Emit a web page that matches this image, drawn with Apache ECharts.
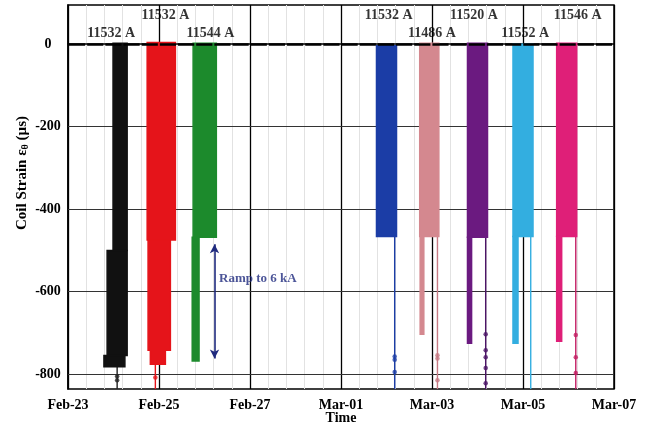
<!DOCTYPE html>
<html><head><meta charset="utf-8">
<script src="https://cdn.jsdelivr.net/npm/echarts@6/dist/echarts.min.js"></script>
<style>html,body{margin:0;padding:0;background:#fff}#c{width:648px;height:431px}</style>
</head><body><div id="c"></div>
<script>
// ---- data (x in days since Feb-23, y in microstrain) ----
const xTickLabels = ['Feb-23','Feb-25','Feb-27','Mar-01','Mar-03','Mar-05','Mar-07'];
const yTicks = [0, -200, -400, -600, -800];
const runNames = ['11532 A','11532 A','11544 A','11532 A','11486 A','11520 A','11552 A','11546 A'];
const runLabelX = [0.95, 2.14, 3.13, 7.05, 8.00, 8.92, 10.05, 11.20];
const runLabelY = [27, 70, 27, 70, 27, 70, 27, 70];
// strain blocks per run: [tStart, tEnd, strainTop, strainBottom]
const run1Blocks = [[0.99,1.30,2,-500],[0.86,1.30,-500,-755],[0.79,1.25,-755,-782]];
const run2Blocks = [[1.74,2.36,4,-475],[1.76,2.25,-475,-742],[1.81,2.14,-742,-776]];
const run3Blocks = [[2.75,3.26,2,-468],[2.73,2.88,-468,-768]];
const run4Blocks = [[6.78,7.22,-4,-466]];
const run5Blocks = [[7.73,8.15,2,-466],[7.74,7.82,-466,-703]];
const run6Blocks = [[8.78,9.22,2,-468],[8.78,8.87,-468,-725]];
const run7Blocks = [[9.78,10.22,0,-466],[9.78,9.89,-466,-725]];
const run8Blocks = [[10.74,11.18,2,-466],[10.74,10.85,-466,-720]];
// trailing single-sensor traces: [t, strainFrom, strainTo]
const tails = [[1.08,-780,-836],[1.92,-775,-836],[7.18,-466,-836],[8.12,-466,-836],[9.18,-468,-836],[10.17,-466,-836],[11.16,-466,-836]];
// scattered points on the traces
const tailPoints = [[1.08,-805],[1.08,-815],[1.92,-808],[7.18,-757],[7.18,-765],[7.18,-795],[8.12,-754],[8.12,-762],[8.12,-815],
  [9.18,-703],[9.18,-742],[9.18,-759],[9.18,-785],[9.18,-822],[11.16,-705],[11.16,-759],[11.16,-797]];
const rampArrow = [[3.22,-485],[3.22,-762]];
const rampText = 'Ramp to 6 kA';
const rampTextPos = [3.32, -568];
const xTitle = 'Time';
const yTitle = 'Coil Strain ε{sub|θ} (µs)';

const allBlocks = [run1Blocks,run2Blocks,run3Blocks,run4Blocks,run5Blocks,run6Blocks,run7Blocks,run8Blocks];
const runColors = ['#111111','#e5141a','#1c8a2c','#1b3da6','#d4888f','#6b1a80','#33aee0','#df1f78'];
const tailColors = ['#222222','#e5141a','#1b3da6','#c77a84','#4b1466','#33aee0','#c21d62'];
const FONT = '"Liberation Serif", "DejaVu Serif", serif';

const chart = echarts.init(document.getElementById('c'), null, {renderer:'canvas'});
const series = [];

// grid lines / zero line / ramp annotation
series.push({
  type:'line', data:[], silent:true, z:1,
  markLine:{
    silent:true, symbol:'none', label:{show:false}, animation:false, z:1,
    data: yTicks.slice(1).map(v=>({yAxis:v, lineStyle:{color:'#333', width:1, type:'solid'}}))
  }
});
series.push({
  type:'line', data:[], silent:true, z:6,
  markLine:{
    silent:true, symbol:'none', label:{show:false}, animation:false, z:6,
    data:[{yAxis:0, lineStyle:{color:'#000', width:2.5, type:[16.17,2], dashOffset:17.17}}]
  }
});
series.push({
  type:'line', data:[], silent:true, z:7,
  markLine:{
    silent:true, symbol:['arrow','arrow'], symbolSize:[7,9], label:{show:false}, animation:false, z:7,
    lineStyle:{color:'#1f2a7e', width:1.6, type:'solid'},
    data:[[{coord:rampArrow[0]},{coord:rampArrow[1]}]]
  }
});

allBlocks.forEach((blocks, i) => {
  series.push({
    type:'custom', z:3, clip:true,
    data: blocks,
    renderItem: function(params, api){
      const p0 = api.coord([api.value(0), api.value(2)]);
      const p1 = api.coord([api.value(1), api.value(3)]);
      return {type:'rect', shape:{x:p0[0], y:p0[1], width:p1[0]-p0[0], height:p1[1]-p0[1]},
        style:{fill:runColors[i], stroke:runColors[i], lineWidth:1.5}};
    },
    encode:{x:[0,1], y:[2,3]}
  });
});

tails.forEach((t, i) => {
  series.push({type:'line', z:2, symbol:'none', silent:true, clip:true,
    data:[[t[0],t[1]],[t[0],t[2]]], lineStyle:{color:tailColors[i], width:1.4}});
});

series.push({type:'scatter', z:4, symbolSize:4.5, silent:true,
  data: tailPoints,
  itemStyle:{color: function(p){ const x=p.value[0]; const idx = tails.findIndex(t=>Math.abs(t[0]-x)<0.01); return tailColors[idx]; }}
});

// run labels
series.push({type:'scatter', z:8, symbolSize:0, silent:true,
  data: runLabelX.map((x,i)=>({value:[x, runLabelY[i]], name:runNames[i]})),
  label:{show:true, position:'inside', formatter:p=>p.name, color:'#000',
    fontFamily:FONT, fontSize:14, fontWeight:'bold'}
});
series.push({type:'scatter', z:8, symbolSize:0, silent:true,
  data:[{value:rampTextPos, name:rampText}],
  label:{show:true, position:'right', distance:0, formatter:p=>p.name, color:'#1f2a7e',
    fontFamily:FONT, fontSize:13, fontWeight:'bold'}
});

chart.setOption({
  animation:false,
  grid:{left:68, right:34, top:5, bottom:42, show:true, borderColor:'#000', borderWidth:1.5, backgroundColor:'#fff',
    containLabel:false, outerBoundsMode:'none'},
  xAxis:{
    type:'value', min:0, max:12, interval:2,
    axisLine:{lineStyle:{color:'#000', width:1.5}},
    axisTick:{show:false},
    axisLabel:{formatter:v=>xTickLabels[Math.round(v/2)], fontFamily:FONT, fontSize:14, fontWeight:'bold', color:'#000', margin:9},
    splitLine:{show:true, lineStyle:{color:'#000', width:1.3}},
    minorTick:{show:false, splitNumber:5},
    minorSplitLine:{show:true, lineStyle:{color:'#e2e2e2', width:1}}
  },
  yAxis:{
    type:'value', min:-836, max:95,
    axisLine:{lineStyle:{color:'#000', width:1.5}},
    axisTick:{show:false, customValues:yTicks},
    axisLabel:{customValues:yTicks, fontFamily:FONT, fontSize:14, fontWeight:'bold', color:'#000', margin:20, align:'center'},
    splitLine:{show:false}
  },
  graphic:[{
    type:'text', x:22, y:173, rotation:Math.PI/2, z:10,
    style:{text:yTitle, fill:'#000', font:'bold 15px '+FONT, align:'center', verticalAlign:'middle',
      rich:{sub:{fontFamily:FONT, fontSize:10, fontWeight:'bold', verticalAlign:'bottom', padding:[7,0,0,0]}}}
  },{
    type:'text', x:341, y:418, z:10,
    style:{text:xTitle, fill:'#000', font:'bold 14px '+FONT, align:'center', verticalAlign:'middle'}
  }],
  series: series
});
</script></body></html>
